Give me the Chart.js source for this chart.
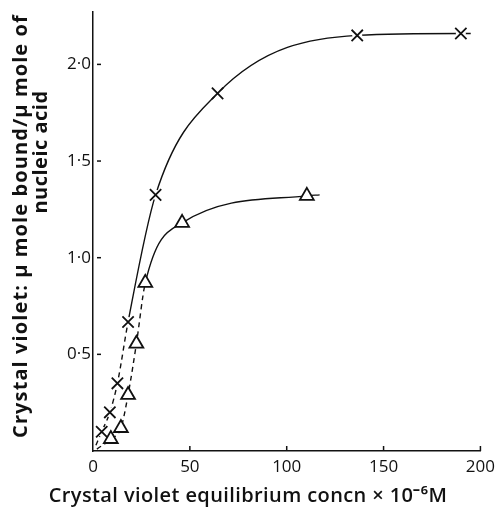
<!DOCTYPE html>
<html>
<head>
<meta charset="utf-8">
<script src="https://cdn.jsdelivr.net/npm/chart.js@4"></script>
<style>
  html, body { margin: 0; padding: 0; background: #fff; }
  canvas { display: block; }
</style>
</head>
<body>
<canvas id="chart" width="501" height="507"></canvas>
<script>
// crosses (upper curve)
const concX = [4.5, 8.7, 12.6, 18.1, 32.3, 64.3, 136.4, 189.9];
const boundX = [0.10, 0.20, 0.35, 0.667, 1.325, 1.85, 2.15, 2.16];
// triangles (lower curve)
const concT = [9.2, 14.4, 18.1, 22.4, 27.0, 46.0, 110.4];
const boundT = [0.062, 0.119, 0.29, 0.555, 0.87, 1.18, 1.32];
// where the drawn curves start and stop beyond the points
const curveXStart = [1.5, 0.03];
const curveXEnd = [195, 2.16];
const curveTStart = [2, 0.01];
const curveTEnd = [117, 1.325];

const xTicks = [0, 50, 100, 150, 200];
const yTicks = [0.5, 1.0, 1.5, 2.0];

const xTitle = 'Crystal violet equilibrium concn \u00d7 10\u207b\u2076M';
const yTitle = ['Crystal violet: \u03bc mole bound/\u03bc mole of', 'nucleic acid'];

const INK = '#111';
const pts = (xs, ys) => xs.map((x, i) => ({ x, y: ys[i] }));
const curve = (start, xs, ys, end) =>
  [{ x: start[0], y: start[1] }, ...pts(xs, ys), { x: end[0], y: end[1] }];

const dashBelow = (lim) => (ctx) => (ctx.p1.parsed.y <= lim ? [5, 4] : undefined);

const extras = {
  id: 'extras',
  afterDraw(chart) {
    const { ctx, chartArea: a, scales: { x, y } } = chart;
    ctx.save();
    ctx.strokeStyle = INK;
    ctx.lineWidth = 1.5;
    // inward tick marks
    xTicks.slice(1).forEach(v => {
      const px = x.getPixelForValue(v);
      ctx.beginPath(); ctx.moveTo(px, a.bottom); ctx.lineTo(px, a.bottom - 5); ctx.stroke();
    });
    yTicks.forEach(v => {
      const py = y.getPixelForValue(v);
      ctx.beginPath(); ctx.moveTo(a.left + 4, py); ctx.lineTo(a.left + 8, py); ctx.stroke();
    });
    // axis titles
    ctx.fillStyle = INK;
    ctx.textAlign = 'center';
    ctx.textBaseline = 'middle';
    ctx.font = '600 20px "Open Sans"';
    ctx.letterSpacing = '0.4px';
    ctx.fillText(xTitle, 248, 496);
    ctx.font = 'bold 20px "Open Sans"';
    ctx.letterSpacing = '1.1px';
    ctx.translate(21, 226);
    ctx.rotate(-Math.PI / 2);
    ctx.fillText(yTitle[0], 0, 0);
    ctx.letterSpacing = '0.5px';
    ctx.fillText(yTitle[1], 74, 20);
    ctx.restore();
  }
};

new Chart(document.getElementById('chart'), {
  type: 'scatter',
  data: {
    datasets: [
      {
        data: curve(curveXStart, concX, boundX, curveXEnd),
        showLine: true, pointRadius: 0, borderColor: INK, borderWidth: 1.4,
        cubicInterpolationMode: 'monotone', order: 3,
        segment: { borderDash: dashBelow(0.7) }
      },
      {
        data: curve(curveTStart, concT, boundT, curveTEnd),
        showLine: true, pointRadius: 0, borderColor: INK, borderWidth: 1.4,
        cubicInterpolationMode: 'monotone', order: 3,
        segment: { borderDash: dashBelow(0.9) }
      },
      {
        // white gap under the crosses, like the break in the drawn line
        data: pts(concX, boundX),
        pointStyle: 'circle', pointRadius: 5, borderWidth: 0,
        backgroundColor: '#fff', order: 2
      },
      {
        data: pts(concX, boundX),
        pointStyle: 'crossRot', pointRadius: 8, borderColor: INK, borderWidth: 1.8, order: 1
      },
      {
        data: pts(concT, boundT),
        pointStyle: 'triangle', pointRadius: 8, borderColor: INK, borderWidth: 1.8,
        backgroundColor: '#fff', order: 1
      }
    ]
  },
  options: {
    responsive: false,
    animation: false,
    devicePixelRatio: 1,
    layout: { padding: { top: 10, right: 18, left: 0, bottom: 0 } },
    plugins: { legend: { display: false }, tooltip: { enabled: false } },
    scales: {
      x: {
        type: 'linear', min: 0, max: 200,
        afterFit: (s) => { s.height = 56; },
        grid: { display: false, drawTicks: false },
        border: { color: INK, width: 1.5 },
        afterBuildTicks: (s) => { s.ticks = xTicks.map(v => ({ value: v })); },
        ticks: { color: INK, padding: 6, maxRotation: 0, font: { family: 'Open Sans', size: 17 } }
      },
      y: {
        type: 'linear', min: 0, max: 2.27,
        afterFit: (s) => { s.width = 93; },
        grid: { display: false, drawTicks: false },
        border: { color: INK, width: 1.5 },
        afterBuildTicks: (s) => { s.ticks = yTicks.map(v => ({ value: v })); },
        ticks: {
          color: INK, padding: 2, font: { family: 'Open Sans', size: 17 },
          callback: (v) => v.toFixed(1).replace('.', '\u00b7')
        }
      }
    }
  },
  plugins: [extras]
});
</script>
</body>
</html>
